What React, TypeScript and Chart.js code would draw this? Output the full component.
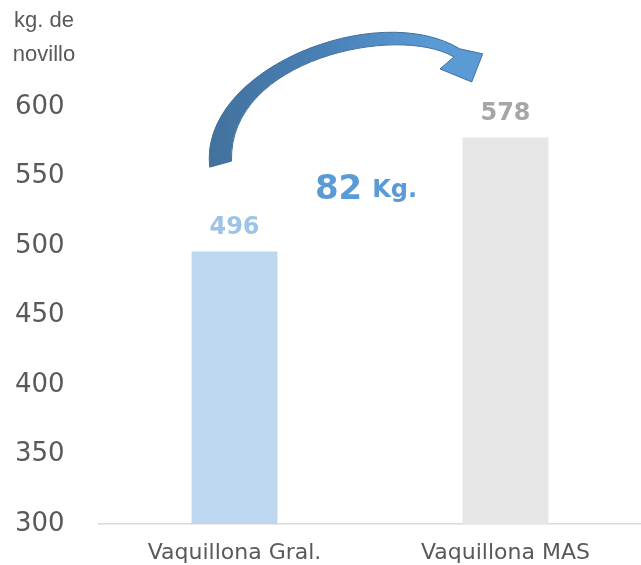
import React, { useEffect, useRef } from "react";
import { Chart, registerables } from "chart.js";
Chart.register(...registerables);

const categories = ["Vaquillona Gral.", "Vaquillona MAS"];
const values = [496, 578];
const yTicks = [300, 350, 400, 450, 500, 550, 600];
const axisTitleLines = ["kg. de", "novillo"];
const differenceLabel = "82";
const differenceUnit = "Kg.";

const barColors = ["#BDD7EE", "#E7E6E6"];
const labelColors = ["#9DC3E6", "#A6A6A6"];

export default function App() {
  const ref = useRef<HTMLCanvasElement | null>(null);
  useEffect(() => {
    if (!ref.current) return;
    const overlay = {
      id: "overlay",
      afterDatasetsDraw(chart: any) {
        const ctx = chart.ctx;
        const xs = chart.scales.x;
        const ys = chart.scales.y;
        const x0 = xs.getPixelForValue(0);
        const dx = xs.getPixelForValue(1) - x0;
        const R = (px: number, py: number) => [
          x0 + ((px - 236) / 273) * dx,
          ys.getPixelForValue(600 - ((py - 108) * 300) / 416),
        ];
        const meta = chart.getDatasetMeta(0);
        ctx.save();
        ctx.textAlign = "center";
        ctx.textBaseline = "middle";
        ctx.font = 'bold 24px "DejaVu Sans"';
        meta.data.forEach((el: any, i: number) => {
          ctx.fillStyle = labelColors[i];
          ctx.fillText(String(values[i]), el.x, el.y - 24);
        });
        const g0 = R(205, 0), g1 = R(480, 0);
        const grad = ctx.createLinearGradient(g0[0], 0, g1[0], 0);
        grad.addColorStop(0, "#41719C");
        grad.addColorStop(0.45, "#4A80B8");
        grad.addColorStop(0.85, "#5B9BD5");
        const m = (q: number[]) => ctx.moveTo(q[0], q[1]);
        const l = (q: number[]) => ctx.lineTo(q[0], q[1]);
        const c = (a: number[], b: number[], e: number[]) =>
          ctx.bezierCurveTo(a[0], a[1], b[0], b[1], e[0], e[1]);
        ctx.beginPath();
        m(R(211, 168));
        c(R(200, 70), R(380, 0), R(463, 50));
        l(R(486, 55));
        l(R(475, 83));
        l(R(443, 70));
        l(R(457, 58));
        c(R(400, 25), R(230, 60), R(233, 162));
        ctx.closePath();
        ctx.fillStyle = grad;
        ctx.fill();
        ctx.strokeStyle = "#41719C";
        ctx.lineWidth = 1;
        ctx.stroke();
        ctx.textBaseline = "alphabetic";
        ctx.textAlign = "left";
        ctx.fillStyle = "#5B9BD5";
        ctx.font = 'bold 34px "DejaVu Sans"';
        const lp = R(317, 200);
        ctx.fillText(differenceLabel, lp[0], lp[1]);
        const w = ctx.measureText(differenceLabel).width;
        ctx.font = 'bold 24px "DejaVu Sans"';
        ctx.fillText(differenceUnit, lp[0] + w + 10, lp[1] - 2);
        ctx.restore();
      },
      afterDraw(chart: any) {
        const ctx = chart.ctx;
        ctx.save();
        ctx.fillStyle = "#595959";
        ctx.font = '22px "Liberation Sans"';
        ctx.textAlign = "center";
        ctx.textBaseline = "middle";
        axisTitleLines.forEach((t, i) => ctx.fillText(t, 44, 21 + i * 34));
        ctx.restore();
      },
    };
    const chart = new Chart(ref.current, {
      type: "bar",
      data: {
        labels: categories,
        datasets: [
          {
            data: values,
            backgroundColor: barColors,
            borderWidth: 0,
            barPercentage: 0.317,
            categoryPercentage: 1,
          },
        ],
      },
      options: {
        responsive: false,
        animation: false,
        layout: { padding: { top: 107, right: 0, bottom: 0, left: 15 } },
        plugins: { legend: { display: false }, tooltip: { enabled: false } },
        scales: {
          x: {
            grid: { display: false, drawTicks: false },
            border: { display: true, color: "#D9D9D9", width: 1.5 },
            afterFit: (s: any) => {
              s.height = 41;
            },
            ticks: {
              color: "#595959",
              font: { family: "DejaVu Sans", size: 22 },
              padding: 16,
              maxRotation: 0,
            },
          },
          y: {
            min: 300,
            max: 600,
            grid: { display: false, drawTicks: false },
            border: { display: false },
            afterBuildTicks: (s: any) => {
              s.ticks = yTicks.map((v) => ({ value: v }));
            },
            afterFit: (s: any) => {
              s.width = 84;
            },
            ticks: {
              color: "#595959",
              font: { family: "DejaVu Sans", size: 26 },
              padding: 0,
              crossAlign: "far",
            },
          },
        },
      },
      plugins: [overlay],
    });
    return () => chart.destroy();
  }, []);
  return (
    <canvas
      ref={ref}
      width={641}
      height={565}
      style={{ position: "absolute", left: 0, top: 0, display: "block" }}
    />
  );
}
